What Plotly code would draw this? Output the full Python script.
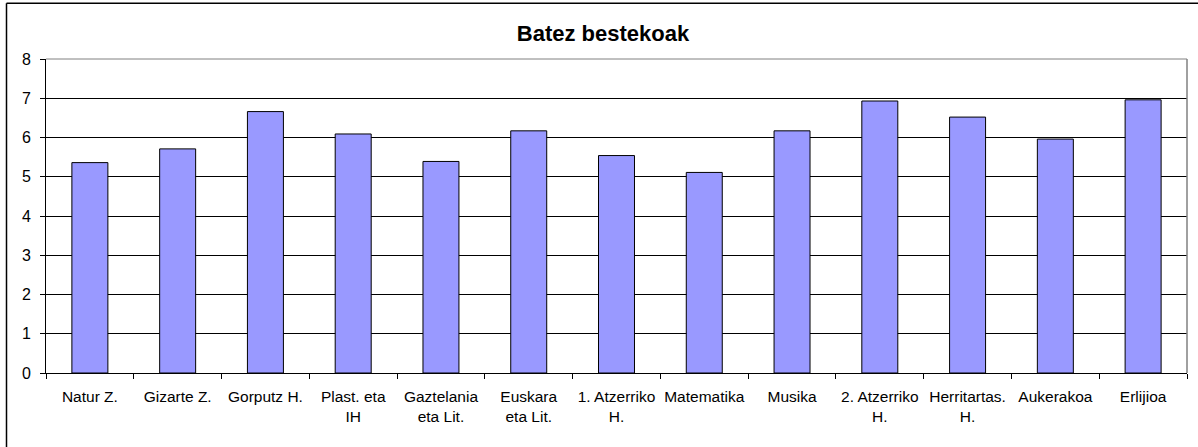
import plotly.graph_objects as go

categories = ["Natur Z.", "Gizarte Z.", "Gorputz H.", "Plast. eta<br>IH", "Gaztelania<br>eta Lit.",
              "Euskara<br>eta Lit.", "1. Atzerriko<br>H.", "Matematika", "Musika",
              "2. Atzerriko<br>H.", "Herritartas.<br>H.", "Aukerakoa", "Erlijioa"]
values = [5.36, 5.71, 6.66, 6.09, 5.39, 6.17, 5.54, 5.11, 6.17, 6.93, 6.52, 5.96, 6.96]
y_ticks = [0, 1, 2, 3, 4, 5, 6, 7, 8]

W, H = 1198, 447
L, R, T, B = 46, 1187, 59.3, 373
pw, ph = R - L, B - T

def px_x(px):
    return (px - L) / pw

def px_y(py):
    return (B - py) / ph

FONT = "Liberation Sans, Arial, sans-serif"

fig = go.Figure()
fig.add_trace(go.Bar(
    x=categories, y=values, width=0.41,
    marker=dict(color="#9999FF", line=dict(color="#000000", width=1)),
    showlegend=False, hoverinfo="skip",
))

fig.update_layout(
    width=W, height=H,
    margin=dict(l=L, r=W - R, t=T, b=H - B, pad=0),
    paper_bgcolor="white", plot_bgcolor="white",
    font=dict(family=FONT, size=16, color="black"),
    title=dict(text="<b>Batez bestekoak</b>", x=603 / W, xanchor="center",
               y=1 - 33 / H, yanchor="middle",
               font=dict(size=22, family=FONT, color="black")),
    xaxis=dict(type="category", showline=True, linecolor="black", linewidth=1,
               ticks="outside", ticklen=5, tickcolor="black", tickson="boundaries",
               showgrid=False, tickfont=dict(size=15.5), tickangle=0, ticklabelstandoff=9,
               automargin=False),
    yaxis=dict(range=[0, 8], tickvals=y_ticks, showline=True, linecolor="black", linewidth=1,
               ticks="outside", ticklen=5, tickcolor="black", showgrid=True,
               gridcolor="#000000", gridwidth=1, zeroline=False,
               tickfont=dict(size=16), ticklabelstandoff=6, automargin=False),
    shapes=[
        dict(type="line", xref="paper", yref="paper", x0=0, x1=1, y0=1, y1=1,
             line=dict(color="#808080", width=1), layer="above"),
        dict(type="line", xref="paper", yref="paper", x0=1, x1=1, y0=0, y1=1,
             line=dict(color="#808080", width=1.5), layer="above"),
        dict(type="line", xref="paper", yref="paper", x0=px_x(6.5), x1=px_x(1210),
             y0=px_y(3.5), y1=px_y(3.5), line=dict(color="black", width=1.5)),
        dict(type="line", xref="paper", yref="paper", x0=px_x(6.5), x1=px_x(6.5),
             y0=px_y(3.5), y1=px_y(460), line=dict(color="black", width=1.5)),
    ],
)

fig.write_html("out.html", config={"displayModeBar": False},
               post_script="document.body.style.margin='0';document.body.style.overflow='hidden';")
